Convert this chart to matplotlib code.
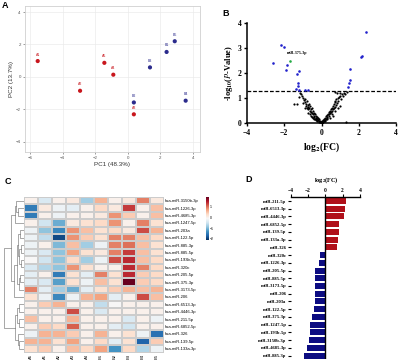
import numpy as np
import matplotlib
matplotlib.use('Agg')
import matplotlib.pyplot as plt

plt.rcParams['font.family'] = ['Liberation Sans', 'DejaVu Sans']
plt.rcParams['mathtext.fontset'] = 'stix'
plt.rcParams['mathtext.default'] = 'bf'
SERIF = 'Liberation Serif'

# ---- A: PCA
pca_labels = ['A1', 'A2', 'A3', 'A4', 'A5', 'B1', 'B2', 'B3', 'B4', 'B5']
pca_x = [-5.53, -2.93, 0.37, -0.89, -1.44, 2.38, 0.37, 1.36, 3.55, 2.88]
pca_y = [0.98, -0.85, -2.3, 0.14, 0.87, 1.54, -1.57, 0.59, -1.46, 2.2]

# ---- B: volcano
black_x = [-1.45, -1.3, -1.15, -1.1, -1.05, -0.98, -0.95, -0.9, -0.88, -0.85, -0.82, -0.8, -0.78, -0.75,
           -0.72, -0.7, -0.68, -0.65, -0.62, -0.6, -0.58, -0.55, -0.52, -0.5, -0.48, -0.45, -0.42, -0.4,
           -0.38, -0.35, -0.32, -0.3, -0.28, -0.25, -0.22, -0.2, -0.18, -0.15, -0.12, -0.1, -0.08, -0.05,
           -0.03, -0.6, -0.5, -0.4, -0.3, -0.7, -0.9, -1.0, -1.2, -0.55, -0.35, -0.25, -0.15, -0.45,
           0.03, 0.05, 0.08, 0.1, 0.12, 0.15, 0.18, 0.2, 0.22, 0.25, 0.28, 0.3, 0.32, 0.35, 0.38, 0.4,
           0.42, 0.45, 0.48, 0.5, 0.52, 0.55, 0.58, 0.6, 0.62, 0.65, 0.68, 0.7, 0.72, 0.75, 0.78, 0.8,
           0.85, 0.88, 0.9, 0.95, 1.0, 1.05, 1.1, 1.15, 1.2, 1.25, 0.98, 0.6, 0.45, 0.3, 0.75, 0.9, 1.3,
           0.55, 0.2, 1.35, 0.82, 0.7, 0.0, -0.02, 0.02, 1.02]
black_y = [0.75, 0.76, 1.22, 1.18, 1.1, 1.02, 0.92, 0.85, 0.95, 0.78, 0.7, 0.88, 0.62, 0.72,
           0.66, 0.55, 0.75, 0.6, 0.5, 0.68, 0.45, 0.55, 0.4, 0.6, 0.35, 0.48, 0.3, 0.42,
           0.25, 0.36, 0.22, 0.3, 0.18, 0.25, 0.15, 0.2, 0.12, 0.16, 0.08, 0.1, 0.05, 0.06,
           0.03, 0.35, 0.25, 0.18, 0.12, 0.42, 0.6, 0.8, 1.05, 0.3, 0.15, 0.1, 0.05, 0.2,
           0.03, 0.07, 0.05, 0.12, 0.08, 0.18, 0.12, 0.22, 0.15, 0.28, 0.2, 0.32, 0.25, 0.38, 0.3, 0.45,
           0.35, 0.5, 0.4, 0.58, 0.45, 0.62, 0.5, 0.7, 0.55, 0.75, 0.6, 0.85, 0.66, 0.9, 0.72, 0.95,
           0.8, 1.0, 0.88, 1.05, 1.1, 0.98, 1.15, 1.08, 1.2, 1.15, 0.7, 0.3, 0.22, 0.15, 0.5, 0.62, 0.03,
           0.35, 0.08, 1.25, 1.22, 1.25, 0.01, 0.02, 0.02, 1.2]
blue_x = [-2.6, -2.2, -2.0, -1.86, -1.93, -1.23, -1.3, -1.28, -1.26, -1.37, -1.2, -0.9, -0.74,
          2.4, 2.18, 2.1, 1.55, 1.52, 1.5, 1.42]
blue_y = [2.39, 3.11, 3.04, 2.32, 2.13, 2.09, 1.96, 1.6, 1.49, 1.35, 1.33, 1.32, 1.33,
          3.64, 2.69, 2.65, 2.15, 1.73, 1.62, 1.45]
green_x, green_y = -1.68, 2.47

# ---- C: heatmap
samples = ['A5', 'A1', 'A2', 'A3', 'A4', 'B1', 'B2', 'B3', 'B4', 'B5']
mirnas = ['hsa-miR-3150b-3p', 'hsa-miR-1226-3p', 'hsa-miR-4685-3p', 'hsa-miR-1247-5p', 'hsa-miR-203a',
          'hsa-miR-122-5p', 'hsa-miR-885-3p', 'hsa-miR-885-5p', 'hsa-miR-193b-5p', 'hsa-miR-320c',
          'hsa-miR-205-5p', 'hsa-miR-375-3p', 'hsa-miR-3173-5p', 'hsa-miR-206', 'hsa-miR-6513-3p',
          'hsa-miR-4446-3p', 'hsa-miR-211-5p', 'hsa-miR-6852-5p', 'hsa-miR-326', 'hsa-miR-139-5p',
          'hsa-miR-133a-3p']
zscores = [
    [0.0, -0.4, 0.0, 0.1, -0.8, 0.6, 0.0, 0.1, 0.9, 0.1],
    [-1.5, 0.1, -0.2, -0.3, 0.0, 0.3, 0.1, 1.3, 0.0, 0.5],
    [-1.5, 0.0, -0.2, 0.0, 0.0, 0.1, 0.8, 0.4, 0.0, 0.5],
    [0.0, -0.5, -1.1, 0.1, 0.2, 0.3, 0.8, 0.0, 0.9, 0.2],
    [-0.2, -0.9, -1.4, 0.8, 0.5, 0.2, 0.3, 0.1, 1.2, 0.6],
    [-0.2, -0.6, -1.9, 0.8, 0.4, 0.2, 0.9, 0.9, 0.5, 0.3],
    [-0.2, 0.0, -1.0, 0.5, -0.8, -0.2, 0.9, 1.0, 0.5, 0.2],
    [-0.2, -0.4, -0.9, 0.7, 0.2, 0.1, 0.9, 1.3, 0.5, 0.2],
    [-0.1, -0.5, -0.9, 0.3, -0.8, -0.2, 1.2, 1.4, 0.5, 0.3],
    [-0.4, -0.7, -0.9, 0.8, 0.2, 0.0, 0.0, 1.4, 0.9, 0.3],
    [-0.3, 0.0, -1.5, 0.2, -0.3, 0.9, 0.2, 1.4, 0.4, 0.3],
    [-0.3, -0.4, -1.2, 0.2, -0.2, 0.5, 0.2, 2.0, 0.4, 0.3],
    [0.9, -0.3, -0.8, -1.1, -0.3, 0.2, 0.4, 0.6, 0.5, 0.6],
    [0.2, -0.2, -1.4, -0.2, 0.6, 0.7, -0.3, 0.0, 1.2, 0.5],
    [0.0, 0.4, 0.6, 0.0, 0.0, -0.6, -0.1, 0.0, 0.0, 0.0],
    [0.0, 0.0, 0.0, 1.2, 0.0, -0.4, 0.0, 0.0, 0.0, 0.0],
    [0.5, 0.0, 0.0, 0.6, 0.0, 0.0, 0.0, -0.4, 0.0, -0.2],
    [0.0, 0.4, 0.3, 1.1, 0.0, 0.0, -0.3, -0.5, 0.0, 0.0],
    [-0.2, 0.6, 0.6, 0.4, 0.0, 0.6, 0.0, 0.2, -0.2, -1.6],
    [0.6, 0.6, 0.2, 0.7, 0.0, 0.3, -0.3, 0.2, -1.7, 0.4],
    [0.2, 0.4, 0.0, 0.5, 0.3, 0.7, -1.3, 0.3, -0.7, -0.2],
]
# row dendrogram: (height, left, right), leaves are row indices
row_tree = (7.0,
            (4.5,
             (3.2, (2.8, 0, (2.2, 1, 2)), 3),
             (3.5,
              (2.6,
               (2.0, (1.5, 4, 5), (1.6, (1.0, 6, 7), (1.2, 8, 9))),
               (1.8, (1.3, 10, 11), 12)),
              13)),
            (3.0,
             (2.4, (1.7, 14, 15), (1.9, 16, 17)),
             (2.2, 18, (1.6, 19, 20))))

# ---- D: fold change
fc_names = ['miR-211-5p', 'miR-6513-3p', 'miR-4446-3p', 'miR-6852-5p', 'miR-139-5p', 'miR-133a-3p',
            'miR-326', 'miR-320c', 'miR-1226-3p', 'miR-205-5p', 'miR-885-5p', 'miR-3173-5p', 'miR-206',
            'miR-203a', 'miR-122-5p', 'miR-375-3p', 'miR-1247-5p', 'miR-193b-5p', 'miR-3150b-3p',
            'miR-4685-3p', 'miR-885-3p']
fc_vals = [2.42, 2.23, 2.12, 1.54, 1.54, 1.5, 1.35, -0.65, -0.77, -1.15, -1.15, -1.19, -1.19,
           -1.23, -1.35, -1.58, -1.73, -1.81, -1.88, -2.12, -2.5]


def box(l, t, w, h):
    return [l / 400, 1 - (t + h) / 361, w / 400, h / 361]


fig = plt.figure(figsize=(4, 3.61), dpi=100)

# ----- panel A
ax = fig.add_axes(box(25, 6, 175, 146))
cols = ['#c8161d' if s.startswith('A') else '#2b2b8c' for s in pca_labels]
ax.scatter(pca_x, pca_y, c=cols, s=9, zorder=3, linewidths=0)
for lx, ly, lab, c in zip(pca_x, pca_y, pca_labels, cols):
    ax.text(lx, ly + 0.28, lab, fontsize=2.5, color=c, ha='center', va='bottom')
ax.set_xlim(-6.31, 4.43)
ax.set_ylim(-4.62, 4.37)
ax.set_xticks([-6, -4, -2, 0, 2, 4])
ax.set_yticks([-4, -2, 0, 2, 4])
ax.grid(True, color='#ebebeb', lw=0.5)
ax.set_axisbelow(True)
for s in ax.spines.values():
    s.set_color('#d0d0d0')
    s.set_linewidth(0.6)
ax.tick_params(labelsize=3.2, colors='#555555', length=1.5, width=0.4, pad=1.5)
ax.set_xlabel('PC1 (48.3%)', fontsize=4.5, color='#333333', labelpad=1.5)
ax.set_ylabel('PC2 (13.7%)', fontsize=4.5, color='#333333', labelpad=1.5)
fig.text(2 / 400, 1 - 6 / 361, 'A', fontsize=6.5, fontweight='bold', va='center')

# ----- panel B
ax = fig.add_axes(box(247, 23, 149, 100))
ax.scatter(black_x, black_y, s=2.5, c='black', linewidths=0, zorder=2)
ax.scatter(blue_x, blue_y, s=3.5, c='#2222cc', linewidths=0, zorder=3)
ax.scatter([green_x], [green_y], s=3.5, c='#22aa44', linewidths=0, zorder=3)
ax.text(-1.85, 2.72, 'miR-375-3p', fontsize=3, family=SERIF, fontweight='bold', va='bottom')
ax.axhline(1.3, color='black', lw=0.9, ls=(0, (3, 1.5)), zorder=1)
ax.set_xlim(-4, 4)
ax.set_ylim(0, 4)
ax.set_xticks([-4, -2, 0, 2, 4])
ax.set_yticks([0, 1, 2, 3, 4])
for s in ['top', 'right']:
    ax.spines[s].set_visible(False)
for s in ['left', 'bottom']:
    ax.spines[s].set_linewidth(1.1)
ax.tick_params(labelsize=5.5, width=1.0, length=2.5, pad=1.5)
for t in ax.get_xticklabels() + ax.get_yticklabels():
    t.set_fontfamily(SERIF)
    t.set_fontweight('bold')
ax.set_xlabel('log$_2$(FC)', fontsize=7, family=SERIF, fontweight='bold', labelpad=3)
ax.set_ylabel('-log$_{10}$($\\mathit{P}$-Value)', fontsize=6, family=SERIF, fontweight='bold', labelpad=2)
fig.text(222 / 400, 1 - 13 / 361, 'B', fontsize=6.5, fontweight='bold', va='center')

# ----- panel C
data = np.array(zscores)
ax = fig.add_axes(box(24, 197, 139.5, 155.5))
mesh = ax.pcolormesh(data, cmap='RdBu_r', vmin=-2.1, vmax=1.9, edgecolors='#cccccc', linewidth=0.3)
ax.set_xlim(0, len(samples))
ax.set_ylim(len(mirnas), 0)
ax.set_xticks(np.arange(len(samples)) + 0.5)
ax.set_xticklabels(samples, rotation=90, fontsize=3)
ax.yaxis.tick_right()
ax.set_yticks(np.arange(len(mirnas)) + 0.5)
ax.set_yticklabels(mirnas, fontsize=3)
ax.tick_params(length=0, pad=1)
for s in ax.spines.values():
    s.set_visible(False)

dax = fig.add_axes(box(3, 197, 21, 155.5))


def draw_tree(node):
    if isinstance(node, int):
        return node + 0.5, 0.0
    h, left, right = node
    yl, hl = draw_tree(left)
    yr, hr = draw_tree(right)
    dax.plot([hl, h, h, hr], [yl, yl, yr, yr], color='#666666', lw=0.4)
    return (yl + yr) / 2, h


draw_tree(row_tree)
dax.set_xlim(7.3, 0)
dax.set_ylim(len(mirnas), 0)
dax.axis('off')

cax = fig.add_axes(box(206, 197, 2.5, 43))
cb = fig.colorbar(mesh, cax=cax, ticks=[-2, -1, 0, 1])
cb.outline.set_visible(False)
cb.ax.tick_params(labelsize=2.5, length=0, pad=1)
fig.text(5 / 400, 1 - 182 / 361, 'C', fontsize=6.5, fontweight='bold', va='center')

# ----- panel D
ax = fig.add_axes(box(290.7, 196.7, 69.3, 162.3))
ypos = np.arange(len(fc_names))
bar_cols = ['#b0101a' if v > 0 else '#0c0c82' for v in fc_vals]
ax.barh(ypos, fc_vals, height=0.78, color=bar_cols)
ax.axvline(0, color='black', lw=1.0)
ax.set_xlim(-4, 4)
ax.set_ylim(20.45, -0.56)
ax.xaxis.tick_top()
ax.set_xticks([-4, -2, 0, 2, 4])
ax.set_yticks(ypos)
ax.set_yticklabels(fc_names)
for s in ['left', 'right', 'bottom']:
    ax.spines[s].set_visible(False)
ax.spines['top'].set_linewidth(1.0)
ax.tick_params(axis='x', labelsize=4, width=0.8, length=2, pad=1)
ax.tick_params(axis='y', labelsize=3.3, width=0.8, length=2, pad=1)
for t in ax.get_xticklabels() + ax.get_yticklabels():
    t.set_fontfamily(SERIF)
    t.set_fontweight('bold')
fig.text(326 / 400, 1 - 180 / 361, 'log$_2$(FC)', fontsize=4.5, family=SERIF, fontweight='bold',
         ha='center', va='center')
fig.text(245 / 400, 1 - 180 / 361, 'D', fontsize=6.5, fontweight='bold', va='center')

fig.savefig('out.png', dpi=100)
